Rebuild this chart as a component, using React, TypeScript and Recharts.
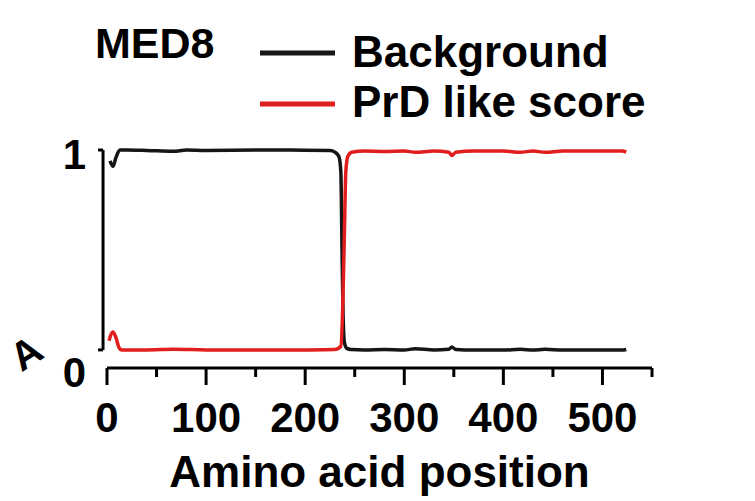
import { LineChart, Line, XAxis, YAxis, Legend, ReferenceLine } from 'recharts'

// Amino acid positions and scores
const bgPos = [3, 6, 9, 13, 20, 40, 67, 80, 100, 150, 200, 225, 230, 234, 236, 237, 238, 239.5, 242, 246, 260, 280, 300, 311, 330, 345, 348, 352, 370, 400, 417, 430, 442, 460, 480, 520, 524]
const bgVal = [0.95, 0.925, 0.965, 1.0, 1.0, 0.998, 0.994, 1.0, 0.998, 1.0, 0.999, 0.998, 0.99, 0.97, 0.9, 0.6, 0.3, 0.12, 0.09, 0.085, 0.083, 0.085, 0.083, 0.088, 0.083, 0.086, 0.096, 0.085, 0.082, 0.082, 0.086, 0.082, 0.086, 0.082, 0.082, 0.082, 0.085]

const prdPos = [2, 6, 9, 12, 15, 40, 67, 100, 150, 200, 230, 236, 238, 239.5, 241, 243, 247, 260, 280, 300, 311, 330, 345, 348, 352, 370, 400, 417, 430, 442, 460, 480, 520, 524]
const prdVal = [0.125, 0.165, 0.14, 0.095, 0.083, 0.083, 0.086, 0.083, 0.082, 0.083, 0.085, 0.1, 0.3, 0.6, 0.9, 0.97, 0.99, 0.995, 0.993, 0.995, 0.99, 0.995, 0.99, 0.975, 0.99, 0.995, 0.995, 0.99, 0.995, 0.99, 0.995, 0.995, 0.995, 0.99]

const xTicks = [0, 50, 100, 150, 200, 250, 300, 350, 400, 450, 500, 550]
const yTicks = [0, 1]

const FONT = '"Liberation Sans", Arial, sans-serif'

const bgData = bgPos.map((p, i) => ({ pos: p, v: bgVal[i] }))
const prdData = prdPos.map((p, i) => ({ pos: p, v: prdVal[i] }))

function XTick({ x, y, payload }: any) {
  const major = payload.value % 100 === 0
  return (
    <g>
      <line x1={x} x2={x} y1={y} y2={y + (major ? 17 : 9)} stroke="#000" strokeWidth={3} />
      {major && (
        <text x={x} y={y + 64} textAnchor="middle" fontFamily={FONT} fontWeight="bold" fontSize={42} fill="#000">
          {payload.value}
        </text>
      )}
    </g>
  )
}

function YTick({ x, y, payload }: any) {
  return (
    <text x={x - 21} y={y + 19} textAnchor="end" fontFamily={FONT} fontWeight="bold" fontSize={42} fill="#000">
      {payload.value}
    </text>
  )
}

function XLabel({ viewBox }: any) {
  return (
    <text
      x={viewBox.x + viewBox.width / 2}
      y={viewBox.y + 119}
      textAnchor="middle"
      fontFamily={FONT}
      fontWeight="bold"
      fontSize={44}
      fill="#000"
    >
      Amino acid position
    </text>
  )
}

function LegendBox({ payload }: any) {
  return (
    <svg width={755} height={130}>
      {(payload || []).map((item: any, i: number) => (
        <g key={item.value}>
          <line x1={260} x2={335} y1={53 + i * 51} y2={53 + i * 51} stroke={item.color} strokeWidth={5} />
          <text x={352} y={67 + i * 50} fontFamily={FONT} fontWeight="bold" fontSize={44} fill="#000">
            {item.value}
          </text>
        </g>
      ))}
    </svg>
  )
}

export default function App() {
  return (
    <div style={{ position: 'relative', width: 755, height: 501 }}>
      <style>{'body{margin:0}'}</style>
      <LineChart width={755} height={501} margin={{ top: 150, right: 103, bottom: 63, left: 47 }}>
        <XAxis
          type="number"
          dataKey="pos"
          domain={[0, 550]}
          ticks={xTicks}
          interval={0}
          height={70}
          tickSize={0}
          tickMargin={0}
          tickLine={false}
          axisLine={{ stroke: '#000', strokeWidth: 3 }}
          tick={<XTick />}
          label={<XLabel />}
        />
        <YAxis
          type="number"
          domain={[0, 1]}
          ticks={yTicks}
          width={60}
          tickSize={0}
          tickMargin={0}
          tickLine={false}
          axisLine={false}
          tick={<YTick />}
        />
        <ReferenceLine segment={[{ x: -4, y: 0.083 }, { x: -4, y: 1 }]} stroke="#000" strokeWidth={3} ifOverflow="visible" />
        <ReferenceLine segment={[{ x: -9, y: 1 }, { x: -4, y: 1 }]} stroke="#000" strokeWidth={3} ifOverflow="visible" />
        <ReferenceLine segment={[{ x: -9, y: 0.083 }, { x: -4, y: 0.083 }]} stroke="#000" strokeWidth={3} ifOverflow="visible" />
        <Legend
          layout="horizontal"
          verticalAlign="middle"
          content={<LegendBox />}
          wrapperStyle={{ top: 0, left: 0, width: 755, height: 130 }}
        />
        <Line
          data={bgData}
          dataKey="v"
          name="Background"
          type="monotone"
          stroke="#161616"
          strokeWidth={3.5}
          dot={false}
          isAnimationActive={false}
        />
        <Line
          data={prdData}
          dataKey="v"
          name="PrD like score"
          type="monotone"
          stroke="#e11d1d"
          strokeWidth={3.5}
          dot={false}
          isAnimationActive={false}
        />
      </LineChart>
      <svg width={755} height={501} style={{ position: 'absolute', top: 0, left: 0, pointerEvents: 'none' }}>
        <text x={95} y={58} fontFamily={FONT} fontWeight="bold" fontSize={43} fill="#000">
          MED8
        </text>
        <text
          x={26}
          y={367}
          textAnchor="middle"
          transform="rotate(-33, 26, 353)"
          fontFamily={FONT}
          fontWeight="bold"
          fontSize={40}
          fill="#000"
        >
          A
        </text>
      </svg>
    </div>
  )
}
